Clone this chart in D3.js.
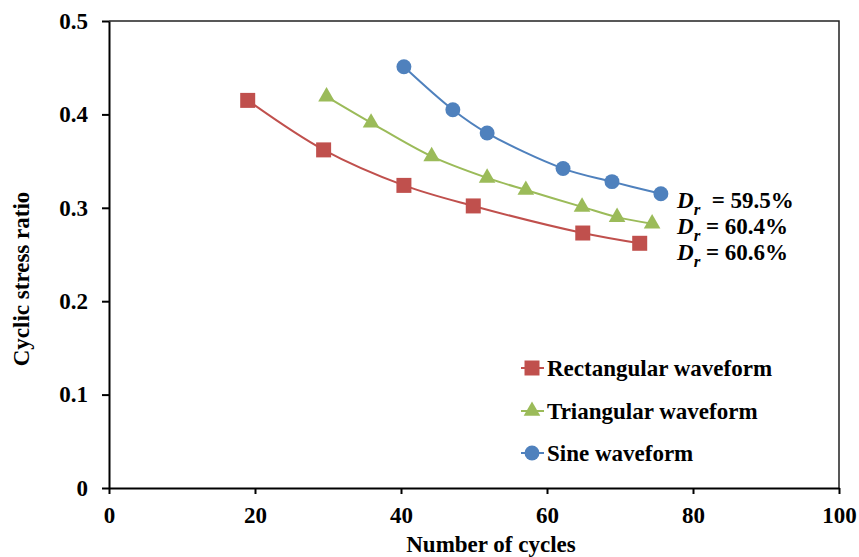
<!DOCTYPE html>
<html>
<head>
<meta charset="utf-8">
<script src="https://cdn.jsdelivr.net/npm/d3@7"></script>
<style>
  body { margin: 0; background: #fff; }
  svg text { font-family: "Liberation Serif", "Times New Roman", serif; font-weight: bold; }
</style>
</head>
<body>
<div class="graph"></div>
<script>
// datos
const rectCycles = [19.0, 29.4, 40.4, 49.9, 64.9, 72.7];
const rectCSR    = [0.415, 0.362, 0.324, 0.302, 0.273, 0.262];

const triCycles = [29.8, 35.9, 44.2, 51.8, 57.1, 64.8, 69.6, 74.4];
const triCSR    = [0.419, 0.391, 0.355, 0.332, 0.319, 0.301, 0.290, 0.283];

const sineCycles = [40.4, 47.1, 51.8, 62.2, 68.9, 75.6];
const sineCSR    = [0.451, 0.405, 0.380, 0.342, 0.328, 0.315];

const seriesNames = ["Rectangular waveform", "Triangular waveform", "Sine waveform"];
const seriesColors = ["#C0504D", "#9BBB59", "#4F81BD"];
const drLabels = ["59.5%", "60.4%", "60.6%"];

const xTicks = [0, 20, 40, 60, 80, 100];
const yTicks = [0, 0.1, 0.2, 0.3, 0.4, 0.5];

const width = 859;
const height = 557;
const margin = { left: 109, right: 20, top: 21, bottom: 69 };

const svg = d3.select(".graph")
    .append("svg")
    .attr("width", width)
    .attr("height", height);

const xScale = d3.scaleLinear()
    .domain([0, 100])
    .range([margin.left, width - margin.right]);

const yScale = d3.scaleLinear()
    .domain([0, 0.5])
    .range([height - margin.bottom, margin.top]);

// marco superior y derecho
svg.append("path")
    .attr("d", `M${xScale(0)},${yScale(0.5)}H${xScale(100)}V${yScale(0)}`)
    .attr("fill", "none")
    .attr("stroke", "#222")
    .attr("stroke-width", 1.5);

// ejes
const xAxis = svg.append("g")
    .attr("transform", `translate(0,${yScale(0)})`)
    .call(d3.axisBottom(xScale).tickValues(xTicks).tickSize(6).tickPadding(13).tickSizeOuter(0));

const yAxis = svg.append("g")
    .attr("transform", `translate(${xScale(0)},0)`)
    .call(d3.axisLeft(yScale).tickValues(yTicks).tickSize(7).tickPadding(14).tickSizeOuter(0)
        .tickFormat(d => d === 0 ? "0" : d.toFixed(1)));

[xAxis, yAxis].forEach(ax => {
    ax.select(".domain").attr("stroke", "#000").attr("stroke-width", 2);
    ax.selectAll(".tick line").attr("stroke", "#000").attr("stroke-width", 2);
    ax.selectAll(".tick text").attr("fill", "#000").style("font-size", "23px")
        .style("font-family", "'Liberation Serif', serif").style("font-weight", "bold");
});

// títulos de ejes
svg.append("text")
    .attr("x", 491)
    .attr("y", 552)
    .attr("text-anchor", "middle")
    .style("font-size", "23px")
    .text("Number of cycles");

svg.append("text")
    .attr("transform", `translate(29,${279}) rotate(-90)`)
    .attr("text-anchor", "middle")
    .style("font-size", "23px")
    .text("Cyclic stress ratio");

// series
const series = [
    { name: seriesNames[0], color: seriesColors[0], symbol: d3.symbolSquare, size: 225,
      data: rectCycles.map((c, i) => ({ x: c, y: rectCSR[i] })) },
    { name: seriesNames[1], color: seriesColors[1], symbol: d3.symbolTriangle, size: 120,
      data: triCycles.map((c, i) => ({ x: c, y: triCSR[i] })) },
    { name: seriesNames[2], color: seriesColors[2], symbol: d3.symbolCircle, size: 175,
      data: sineCycles.map((c, i) => ({ x: c, y: sineCSR[i] })) }
];

const line = d3.line()
    .x(d => xScale(d.x))
    .y(d => yScale(d.y))
    .curve(d3.curveCatmullRom.alpha(0.5));

series.forEach(s => {
    svg.append("path")
        .datum(s.data)
        .attr("d", line)
        .attr("fill", "none")
        .attr("stroke", s.color)
        .attr("stroke-width", 2);

    svg.selectAll(null)
        .data(s.data)
        .enter()
        .append("path")
        .attr("transform", d => `translate(${xScale(d.x)},${yScale(d.y)})`)
        .attr("d", d3.symbol().type(s.symbol).size(s.size))
        .attr("fill", s.color);
});

// etiquetas Dr
const drY = [208, 234, 260];
drLabels.forEach((lab, i) => {
    const t = svg.append("text")
        .attr("x", 677)
        .attr("y", drY[i])
        .style("font-size", "23px");
    t.append("tspan").style("font-style", "italic").text("D");
    t.append("tspan").style("font-style", "italic").style("font-size", "17px")
        .attr("dy", 7).text("r");
    t.append("tspan").attr("dy", -7).text((i === 0 ? "\u00a0\u00a0= " : " = ") + lab);
});

// leyenda
const legendY = [368, 411, 453];
series.forEach((s, i) => {
    const g = svg.append("g").attr("transform", `translate(532,${legendY[i]})`);
    g.append("line")
        .attr("x1", -11).attr("x2", 12)
        .attr("stroke", s.color).attr("stroke-width", 2);
    g.append("path")
        .attr("d", d3.symbol().type(s.symbol).size(s.size))
        .attr("fill", s.color);
    g.append("text")
        .attr("x", 15)
        .attr("dy", "0.35em")
        .style("font-size", "23px")
        .text(s.name);
});
</script>
</body>
</html>
